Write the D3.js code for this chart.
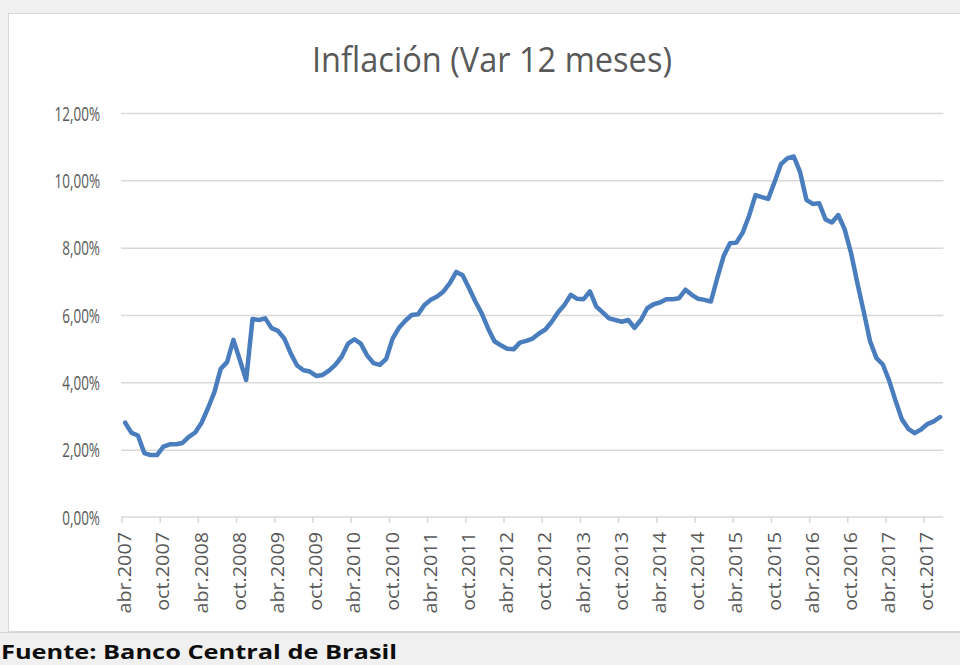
<!DOCTYPE html>
<html><head><meta charset="utf-8">
<script src="https://cdn.jsdelivr.net/npm/d3@7"></script>
<style>body{margin:0;background:#f0f0f0;overflow:hidden} svg{display:block}</style>
</head><body>
<svg id="c" width="960" height="665"></svg>
<script>
const title = "Inflación (Var 12 meses)";
const source = "Fuente: Banco Central de Brasil";
const firstMonth = new Date(2007, 3, 1);   // abr.2007
const lastMonth = new Date(2017, 11, 1);   // dic.2017
// 12-month inflation, %, monthly abr.2007 .. dic.2017
const values = [
  2.80, 2.50, 2.42, 1.90, 1.84, 1.84, 2.09, 2.16, 2.16, 2.20, 2.38, 2.51,
  2.80, 3.23, 3.70, 4.40, 4.60, 5.26, 4.67, 4.07, 5.88, 5.85, 5.90, 5.61,
  5.53, 5.30, 4.86, 4.50, 4.36, 4.32, 4.19, 4.22, 4.35, 4.52, 4.76, 5.15,
  5.28, 5.15, 4.80, 4.57, 4.52, 4.70, 5.30, 5.62, 5.83, 6.00, 6.02, 6.30,
  6.45, 6.55, 6.70, 6.95, 7.28, 7.18, 6.80, 6.40, 6.05, 5.60, 5.22, 5.10,
  5.00, 4.98, 5.18, 5.23, 5.30, 5.45, 5.57, 5.80, 6.08, 6.30, 6.60, 6.48,
  6.47, 6.70, 6.25, 6.08, 5.90, 5.85, 5.80, 5.85, 5.62, 5.85, 6.20, 6.32,
  6.37, 6.47, 6.47, 6.50, 6.75, 6.60, 6.48, 6.45, 6.40, 7.10, 7.75, 8.13,
  8.15, 8.45, 8.95, 9.56, 9.50, 9.45, 9.95, 10.48, 10.65, 10.71, 10.25, 9.42,
  9.30, 9.32, 8.84, 8.75, 8.97, 8.55, 7.85, 6.95, 6.10, 5.22, 4.72, 4.53,
  4.05, 3.45, 2.90, 2.62, 2.49, 2.60, 2.76, 2.84, 2.97
];
const tickLabels = [
  "abr.2007","oct.2007","abr.2008","oct.2008","abr.2009","oct.2009",
  "abr.2010","oct.2010","abr.2011","oct.2011","abr.2012","oct.2012",
  "abr.2013","oct.2013","abr.2014","oct.2014","abr.2015","oct.2015",
  "abr.2016","oct.2016","abr.2017","oct.2017"
];
const yTicks = [0, 2, 4, 6, 8, 10, 12];

const months = d3.timeMonth.range(firstMonth, d3.timeMonth.offset(lastMonth, 1));
const data = months.map((m, i) => ({m, v: values[i]}));

const svg = d3.select("#c");
const W = 960, H = 665;
const font = "'Open Sans', 'DejaVu Sans', sans-serif";
const grey = "#595959";

// background panels
svg.append("rect").attr("x", 0).attr("y", 0).attr("width", W).attr("height", H).attr("fill", "#f0f0f0");
svg.append("rect").attr("x", 8.5).attr("y", 13.5).attr("width", W).attr("height", 618)
  .attr("fill", "#ffffff").attr("stroke", "#d9d9d9");
svg.append("line").attr("x1", 0).attr("x2", W).attr("y1", 632.5).attr("y2", 632.5)
  .attr("stroke", "#d4d4d4").attr("stroke-width", 1);

const x = d3.scaleBand().domain(months).range([122, 943.3]).padding(0);
const y = d3.scaleLinear().domain([0, 12]).range([517, 113]);

const fmt = d3.formatLocale({decimal: ",", thousands: ".", grouping: [3], currency: ["", ""]}).format(".2f");

function squeeze(sel, k) {
  sel.each(function() {
    const w = this.getComputedTextLength();
    d3.select(this).attr("textLength", w * k).attr("lengthAdjust", "spacingAndGlyphs");
  });
}

// gridlines + y labels
const yAxis = d3.axisLeft(y).tickValues(yTicks).tickSize(-(943.3 - 121)).tickPadding(22)
  .tickFormat(d => fmt(d) + "%");
const gy = svg.append("g").attr("transform", "translate(121,0)").call(yAxis);
gy.select(".domain").remove();
gy.selectAll(".tick line").attr("stroke", "#d9d9d9").attr("stroke-width", 1.5)
  .attr("opacity", d => d === 0 ? 0 : 1);
gy.selectAll(".tick text").attr("fill", grey).attr("font-family", font)
  .style("font-size", "19.5px").attr("x", -21).attr("dy", "0.36em");
squeeze(gy.selectAll(".tick text"), 0.69);

// x axis
const tickMonths = months.filter((m, i) => i % 6 === 0);
const gx = svg.append("g").attr("transform", "translate(0,517)");
gx.append("line").attr("x1", 121).attr("x2", 943.3).attr("y1", 0).attr("y2", 0)
  .attr("stroke", "#d9d9d9").attr("stroke-width", 1.5);
gx.selectAll("line.tk").data(tickMonths).join("line").attr("class", "tk")
  .attr("x1", d => x(d)).attr("x2", d => x(d)).attr("y1", 0).attr("y2", 6)
  .attr("stroke", "#d9d9d9").attr("stroke-width", 1.5);
gx.selectAll("text").data(tickMonths).join("text")
  .attr("transform", d => `translate(${x(d) + 3},15) rotate(-90)`)
  .attr("text-anchor", "end").attr("dy", "0.35em")
  .attr("fill", grey).attr("font-family", font).style("font-size", "17.5px")
  .text((d, i) => tickLabels[i]);
squeeze(gx.selectAll("text"), 1.13);

// line
const line = d3.line().x(d => x(d.m) + x.bandwidth() / 2).y(d => y(d.v));
svg.append("path").datum(data).attr("d", line).attr("fill", "none")
  .attr("stroke", "#4a7dbd").attr("stroke-width", 4.5)
  .attr("stroke-linejoin", "round").attr("stroke-linecap", "round");

// title
const t = svg.append("text").attr("x", 492).attr("y", 72).attr("text-anchor", "middle")
  .attr("fill", grey).attr("font-family", font).style("font-size", "34px").text(title);
t.attr("textLength", 360).attr("lengthAdjust", "spacingAndGlyphs");

// source
svg.append("text").attr("x", 1).attr("y", 659).attr("fill", "#0d0d0d")
  .attr("font-family", font).attr("font-weight", "bold").style("font-size", "20px")
  .attr("textLength", 396).attr("lengthAdjust", "spacingAndGlyphs").text(source);
</script>
</body></html>
